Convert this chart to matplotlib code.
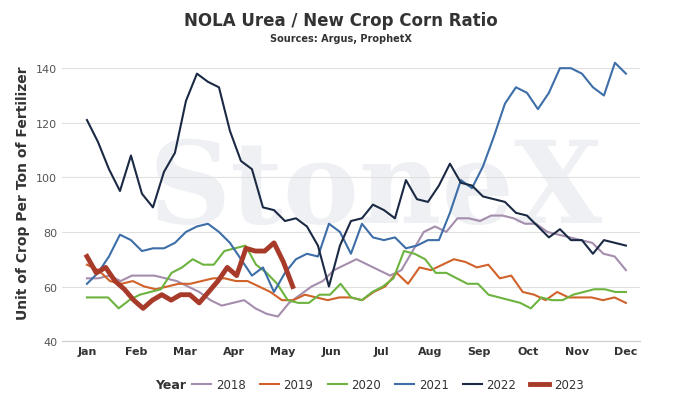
import matplotlib.pyplot as plt
import numpy as np

months = ['Jan', 'Feb', 'Mar', 'Apr', 'May', 'Jun', 'Jul', 'Aug', 'Sep', 'Oct', 'Nov', 'Dec']

y2018 = [63, 63, 64, 62, 64, 64, 64, 63, 62, 60, 58, 55, 53, 54, 55, 52, 50, 49, 54, 57, 60, 62, 66,
         68, 70, 68, 66, 64, 66, 73, 80, 82, 80, 85, 85, 84, 86, 86, 85, 83, 83, 80, 79, 78, 77, 76, 72, 71, 66]
y2019 = [68, 66, 62, 61, 62, 60, 59, 60, 61, 61, 62, 63, 63, 62, 62, 60, 58, 55, 55, 57, 56, 55, 56, 56,
         55, 58, 60, 65, 61, 67, 66, 68, 70, 69, 67, 68, 63, 64, 58, 57, 55, 58, 56, 56, 56, 55, 56, 54]
y2020 = [56, 56, 56, 52, 55, 57, 58, 59, 65, 67, 70, 68, 68, 73, 74, 75, 68, 65, 61, 55, 54, 54, 57, 57,
         61, 56, 55, 58, 60, 63, 73, 72, 70, 65, 65, 63, 61, 61, 57, 56, 55, 54, 52, 56, 55, 55, 57, 58, 59, 59, 58, 58]
y2021 = [61, 65, 71, 79, 77, 73, 74, 74, 76, 80, 82, 83, 80, 76, 70, 64, 67, 58, 65, 70, 72, 71, 83, 80, 72,
         83, 78, 77, 78, 74, 75, 77, 77, 87, 99, 96, 104, 115, 127, 133, 131, 125, 131, 140, 140, 138, 133, 130, 142, 138]
y2022 = [121, 113, 103, 95, 108, 94, 89, 102, 109, 128, 138, 135, 133, 117, 106, 103, 89, 88, 84, 85, 82, 75,
         60, 75, 84, 85, 90, 88, 85, 99, 92, 91, 97, 105, 98, 97, 93, 92, 91, 87, 86, 82, 78, 81, 77, 77, 72, 77, 76, 75]
y2023 = [71, 65, 67, 62, 59, 55, 52, 55, 57, 55, 57, 57, 54, 58, 62, 67, 64, 74, 73, 73, 76, 69, 60]

series = [('2018', y2018, '#a58dad', 1.5, 11.0),
          ('2019', y2019, '#d0622a', 1.5, 11.0),
          ('2020', y2020, '#6db33f', 1.5, 11.0),
          ('2021', y2021, '#3d6ea8', 1.5, 11.0),
          ('2022', y2022, '#1b2a44', 1.5, 11.0),
          ('2023', y2023, '#a83a2a', 3.5, 4.2)]

fig = plt.figure(figsize=(6.81, 4.02), dpi=100)
ax = fig.add_axes([0.091, 0.149, 0.849, 0.74])

ax.text(5.9, 95, 'StoneX', fontsize=82, fontweight='bold', family='DejaVu Serif',
        color='#eef0f4', ha='center', va='center', zorder=0)

for name, vals, col, lw, end in series:
    x = np.linspace(0, end, len(vals))
    ax.plot(x, vals, color=col, lw=lw, label=name, zorder=3 if name == '2023' else 2)

ax.set_xlim(-0.51, 11.29)
ax.set_ylim(40, 149)
ax.set_yticks(range(40, 141, 20))
ax.set_xticks(range(12))
ax.set_xticklabels(months, fontsize=8, fontweight='bold', color='#333333')
ax.tick_params(axis='y', labelsize=8, colors='#555555', length=0)
ax.tick_params(axis='x', length=0)
ax.grid(axis='y', color='#e0e0e0', lw=0.8)
for s in ['top', 'right', 'left']:
    ax.spines[s].set_visible(False)
ax.spines['bottom'].set_color('#cccccc')
ax.set_ylabel('Unit of Crop Per Ton of Fertilizer', fontsize=10, fontweight='bold', color='#333333')

fig.text(0.5, 0.935, 'NOLA Urea / New Crop Corn Ratio', ha='center', fontsize=12, fontweight='bold', color='#333333')
fig.text(0.5, 0.895, 'Sources: Argus, ProphetX', ha='center', fontsize=7, fontweight='bold', color='#333333')

fig.text(0.228, 0.04, 'Year', fontsize=9, fontweight='bold', color='#333333', ha='left', va='center')
leg = fig.legend(loc='center', bbox_to_anchor=(0.57, 0.04), ncol=6, frameon=False, fontsize=8.5,
                 handlelength=1.6, columnspacing=1.2, handletextpad=0.4)
for t in leg.get_texts():
    t.set_color('#333333')

fig.savefig('out.png')
